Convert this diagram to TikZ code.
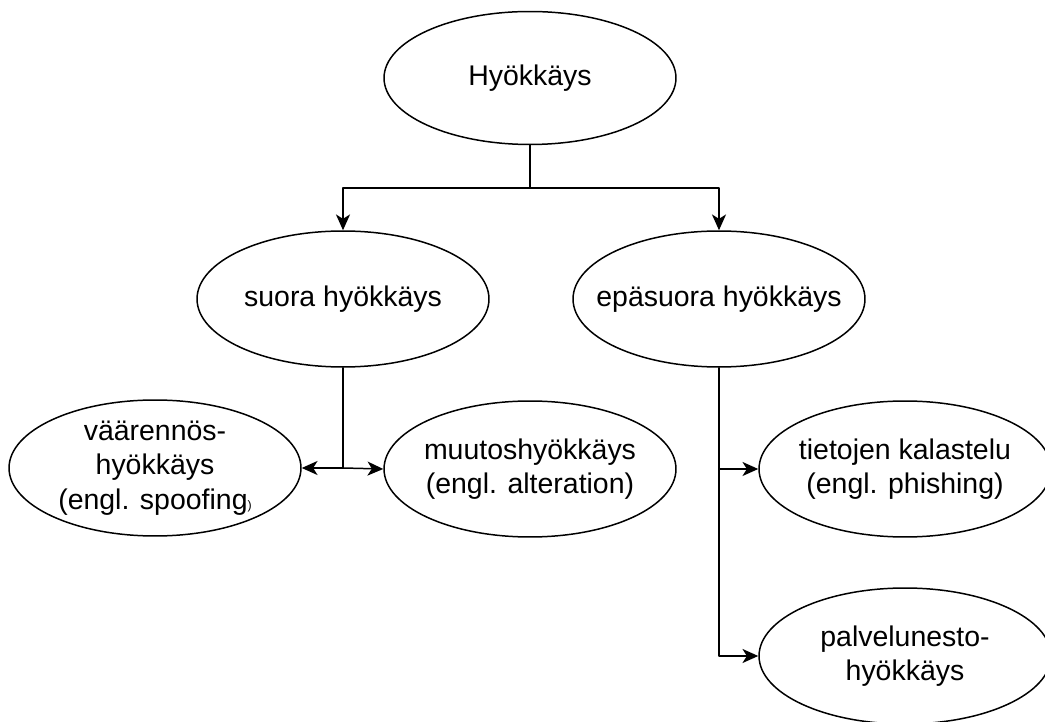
\documentclass[tikz,border=0pt]{standalone}
\usepackage{fontspec}
\setmainfont{Liberation Sans}
\usetikzlibrary{arrows.meta, shapes.geometric, positioning}

\tikzset{
  attack/.style={draw, ellipse, line width=0.85pt, inner xsep=-12pt, inner ysep=0pt,
    minimum width=5.84cm, minimum height=2.72cm, align=center,
    font=\fontsize{16.2}{19.6}\selectfont},
  link/.style={line width=0.85pt, -{Stealth[length=9pt, width=8pt, inset=2.5pt]}}
}

\begin{document}
\begin{tikzpicture}[line cap=round, line join=round, x=0.02cm, y=-0.02cm]
\useasboundingbox (0,0) rectangle (1045,722);

% ylin taso
\node[attack, minimum height=2.66cm] (hyok) at (530,78) {Hyökkäys};

% toinen taso
\node[attack] (suora) at (343,299) {suora hyökkäys};
\node[attack] (epasuora) at (719,299) {epäsuora hyökkäys};

% kolmas taso
\node[attack] (vaar) at (155,468) {väärennös-\\hyökkäys\\(engl. spoofing{\scriptsize)}};
\node[attack] (muutos) at (530,469) {muutoshyökkäys\\(engl. alteration)};
\node[attack] (kalastelu) at (905,469) {tietojen kalastelu\\(engl. phishing)};
\node[attack] (palvelu) at (905,656) {palvelunesto-\\hyökkäys};

% haarautumispisteet
\coordinate (split) at (530,188);
\coordinate (suoraSplit) at (suora.south |- vaar.east);

% yhteydet
\draw [line width=0.85pt] (hyok.south) -- (split);
\draw [link] (split) -| (suora.north);
\draw [link] (split) -| (epasuora.north);

\draw [line width=0.85pt] (suora.south) -- (suoraSplit);
\draw [link] (suoraSplit) -- (vaar.east);
\draw [link] (suoraSplit) -- (muutos.west);

\draw [link] (epasuora.south) |- (palvelu.west);
\draw [link] (epasuora.south |- kalastelu.west) -- (kalastelu.west);

\end{tikzpicture}
\end{document}
